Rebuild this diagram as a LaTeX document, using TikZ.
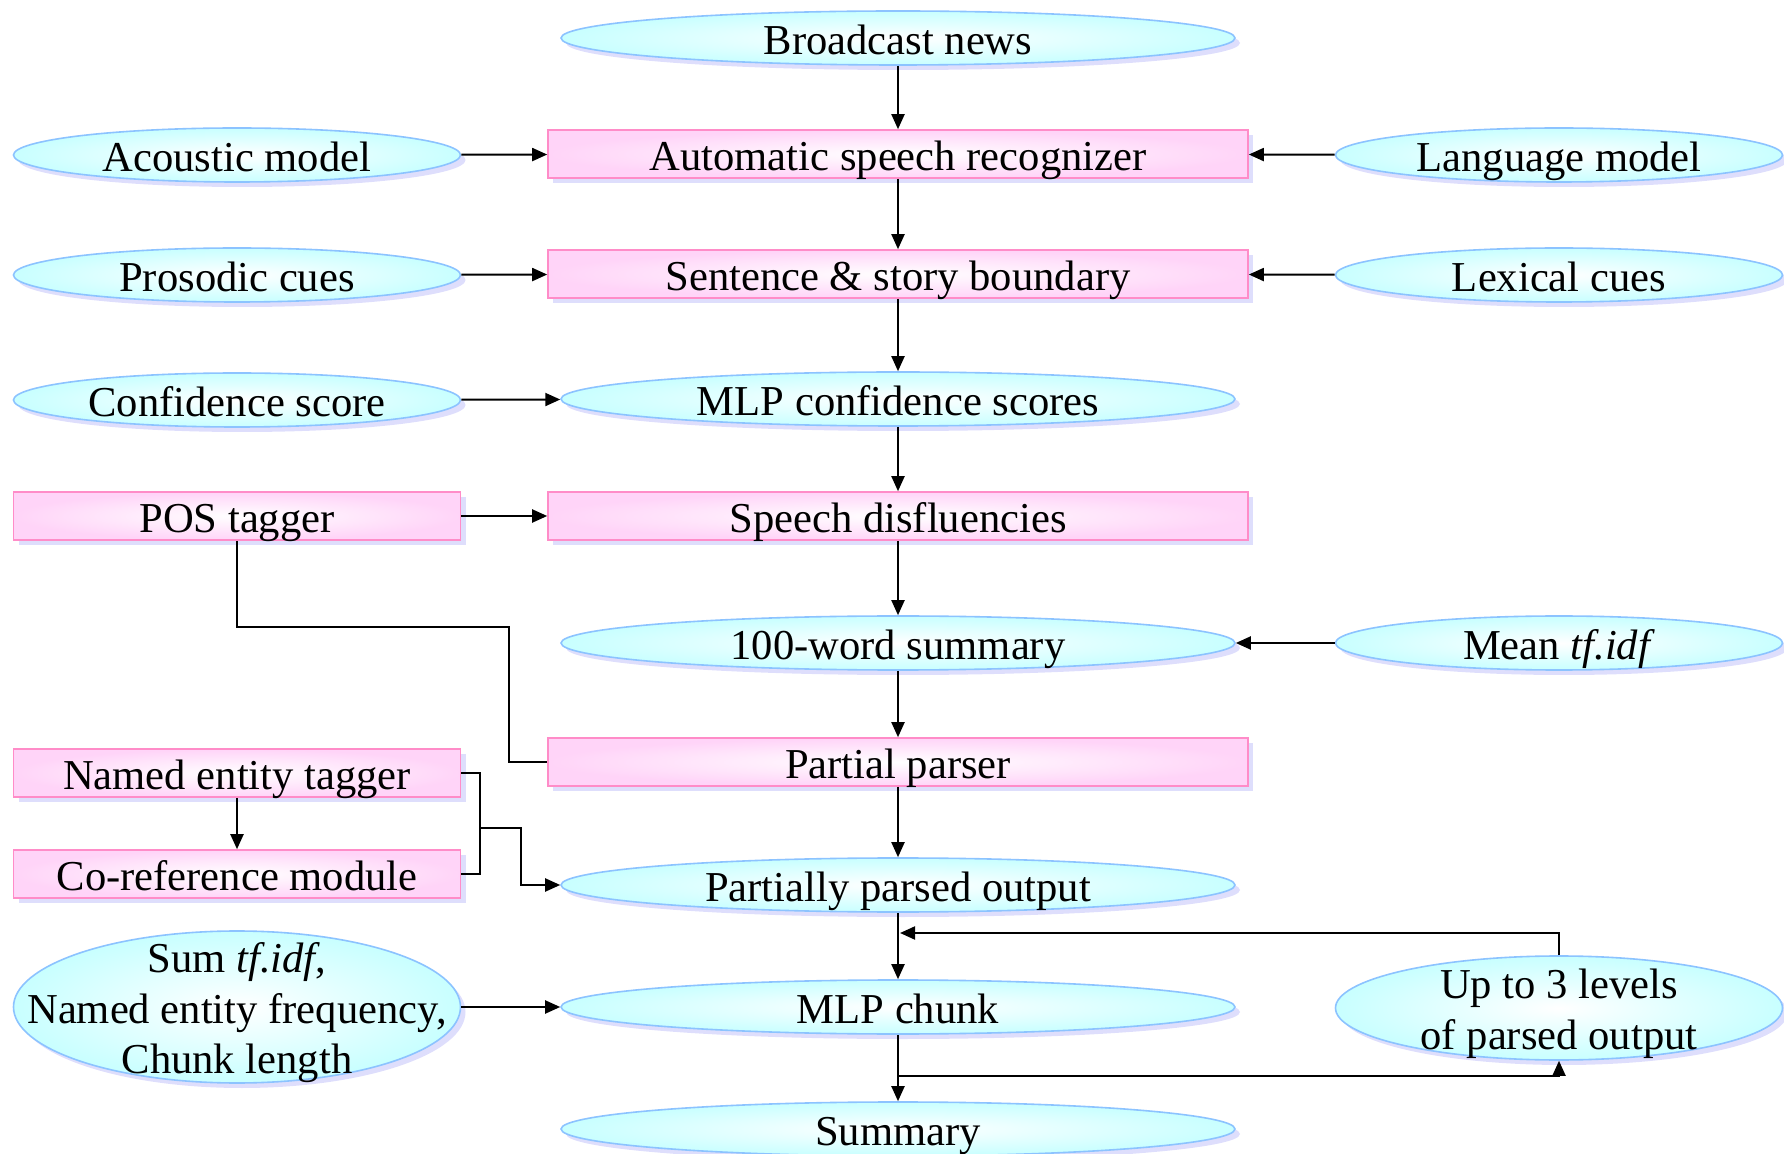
\documentclass[tikz,border=0pt]{standalone}
\usepackage{fontspec}
\setmainfont{Liberation Serif}
\usetikzlibrary{shapes.geometric,shadows,arrows.meta}
\definecolor{ellfill}{RGB}{200,255,255}
\definecolor{elldraw}{RGB}{140,195,255}
\definecolor{boxfill}{RGB}{255,212,248}
\definecolor{boxdraw}{RGB}{255,140,200}
\definecolor{shadowc}{RGB}{222,222,252}
\begin{document}
\begin{tikzpicture}[x=0.5pt,y=-0.5pt,
  base/.style={font=\fontsize{21.3}{25.3}\selectfont, inner sep=0pt, text height=16.5pt, text depth=0pt,
    line width=0.8pt, drop shadow={shadow xshift=2.5pt,shadow yshift=-2.5pt,fill=shadowc,opacity=1}},
  ell/.style={base, ellipse, draw=elldraw, inner color=white, outer color=ellfill},
  box/.style={base, rectangle, draw=boxdraw, inner color=white, outer color=boxfill},
  wide/.style={minimum width=337pt, minimum height=27pt},
  narrow/.style={minimum width=223.5pt, minimum height=27pt},
  wbox/.style={minimum width=350pt, minimum height=24pt},
  nbox/.style={minimum width=223.5pt, minimum height=24pt},
  multi/.style={text height=18.25pt, text depth=2pt},
  arr/.style={-{Triangle[length=7.5pt,width=6.5pt]}, line width=1pt},
  ln/.style={line width=1pt}]
\useasboundingbox (0,0) rectangle (1784,1154);

% centre column
\node[ell, wide] (bn) at (898,38) {Broadcast news};
\node[box, wbox] (asr) at (898,154) {Automatic speech recognizer};
\node[box, wbox] (sb) at (898,274) {Sentence \& story boundary};
\node[ell, wide] (mlp) at (898,399) {MLP confidence scores};
\node[box, wbox] (sd) at (898,516) {Speech disfluencies};
\node[ell, wide] (s100) at (898,643) {100-word summary};
\node[box, wbox] (pp) at (898,762) {Partial parser};
\node[ell, wide] (ppo) at (898,885) {Partially parsed output};
\node[ell, wide] (chunk) at (898,1007) {MLP chunk};
\node[ell, wide] (summ) at (898,1129) {Summary};

% left column
\node[ell, narrow] (am) at (237,155) {Acoustic model};
\node[ell, narrow] (pc) at (237,275) {Prosodic cues};
\node[ell, narrow] (cs) at (237,400) {Confidence score};
\node[box, nbox] (pos) at (237,516) {POS tagger};
\node[box, nbox] (net) at (237,773) {Named entity tagger};
\node[box, nbox] (cor) at (237,874) {Co-reference module};
\node[ell, narrow, minimum height=76pt, multi] (stf) at (237,1007)
  {\makebox[0pt]{\begin{tabular}{@{}c@{}}Sum \textit{tf.idf},\\ Named entity frequency,\\ Chunk length\end{tabular}}};

% right column
\node[ell, narrow] (lm) at (1559,155) {Language model};
\node[ell, narrow] (lc) at (1559,275) {Lexical cues};
\node[ell, narrow] (mtf) at (1559,643) {Mean \textit{tf.idf}};
\node[ell, narrow, minimum height=52pt, multi] (up3) at (1559,1008)
  {\makebox[0pt]{\begin{tabular}{@{}c@{}}Up to 3 levels\\ of parsed output\end{tabular}}};

% vertical chain
\draw[arr] (bn) -- (asr);
\draw[arr] (asr) -- (sb);
\draw[arr] (sb) -- (mlp);
\draw[arr] (mlp) -- (sd);
\draw[arr] (sd) -- (s100);
\draw[arr] (s100) -- (pp);
\draw[arr] (pp) -- (ppo);
\draw[arr] (ppo) -- (chunk);
\draw[arr] (chunk) -- (summ);

% side inputs
\draw[arr] (am) -- (asr);
\draw[arr] (lm) -- (asr);
\draw[arr] (pc) -- (sb);
\draw[arr] (lc) -- (sb);
\draw[arr] (cs) -- (mlp);
\draw[arr] (pos) -- (sd);
\draw[arr] (mtf) -- (s100);
\draw[arr] (stf) -- (chunk);
\draw[arr] (net) -- (cor);

% POS tagger to partial parser
\coordinate (j1) at (509,627);
\draw[ln] (pos.south) |- (j1) |- (pp.west);

% NE bracket
\coordinate (k1) at (480,828);
\coordinate (k2) at (521,828);
\draw[ln] (net.east) -| (k1) |- (cor.east);
\draw[arr] (k1) -- (k2) |- (ppo.west);

% feedback loop
\coordinate (fb) at (900,933);
\draw[arr] (up3.north) |- (fb);
\coordinate (br) at (898,1076);
\draw[arr] (br) -| (up3.south);
\end{tikzpicture}
\end{document}
